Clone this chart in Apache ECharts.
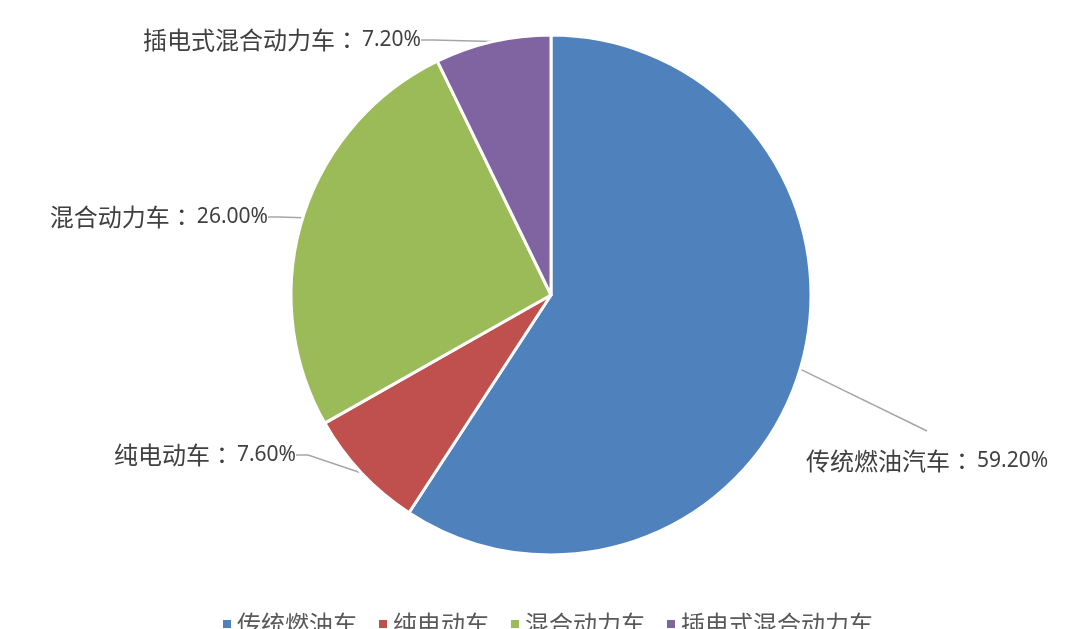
<!DOCTYPE html>
<html>
<head>
<meta charset="utf-8">
<script src="https://cdn.jsdelivr.net/npm/echarts@6/dist/echarts.min.js"></script>
<style>
  html, body { margin:0; padding:0; background:#fff; }
  #chart { width:1080px; height:629px; }
</style>
</head>
<body>
<div id="chart"></div>
<script>
const legendNames = ['传统燃油车', '纯电动车', '混合动力车', '插电式混合动力车'];
const labelNames = ['传统燃油汽车', '纯电动车', '混合动力车', '插电式混合动力车'];
const shares = [59.2, 7.6, 26.0, 7.2];
const colors = ['#4F81BD', '#C0504D', '#9BBB59', '#8064A2'];

// where Excel put each data label (anchor x, y, align)
const labelSpots = [
    { x: 806, y: 461, align: 'left' },
    { x: 296, y: 455, align: 'right' },
    { x: 268, y: 217, align: 'right' },
    { x: 421, y: 40, align: 'right' }
];

const chart = echarts.init(document.getElementById('chart'));

chart.setOption({
    backgroundColor: '#fff',
    animation: false,
    color: colors,
    legend: {
        data: legendNames,
        left: 216,
        top: 607,
        icon: 'rect',
        itemWidth: 10,
        itemHeight: 10,
        itemGap: 20,
        textStyle: { fontFamily: 'Noto Sans CJK SC', fontSize: 24, color: '#595959' }
    },
    series: [{
        type: 'pie',
        center: [551, 295],
        radius: [0, 260],
        startAngle: 90,
        clockwise: true,
        itemStyle: { borderColor: '#fff', borderWidth: 3 },
        label: {
            show: true,
            position: 'outside',
            overflow: 'none',
            formatter: p => '{n|' + labelNames[p.dataIndex] + '}{c|：}{v|' + p.value.toFixed(2) + '%}',
            rich: {
                n: { fontFamily: 'Noto Sans CJK SC', fontSize: 24, color: '#404040' },
                c: { fontFamily: 'Noto Sans CJK JP', fontSize: 24, color: '#404040' },
                v: { fontFamily: 'Noto Sans', fontSize: 21, color: '#404040', padding: [0, 0, 0, 3] }
            }
        },
        labelLine: { show: true, length2: 12, lineStyle: { color: '#A6A6A6', width: 1.5 } },
        labelLayout: p => {
            const s = labelSpots[p.dataIndex];
            const out = { x: s.x, y: s.y, align: s.align, verticalAlign: 'middle', moveOverlap: null };
            if (p.dataIndex === 0 && p.labelLinePoints) {
                // leader goes from the slice midpoint to just above the label
                const w = p.labelRect.width, h = p.labelRect.height;
                const end = [s.x + w / 2, s.y - h / 2 - 18];
                out.labelLinePoints = [p.labelLinePoints[0], end, end];
            }
            return out;
        },
        emphasis: { disabled: true },
        data: legendNames.map((n, i) => ({ name: n, value: shares[i] }))
    }]
});
</script>
</body>
</html>
